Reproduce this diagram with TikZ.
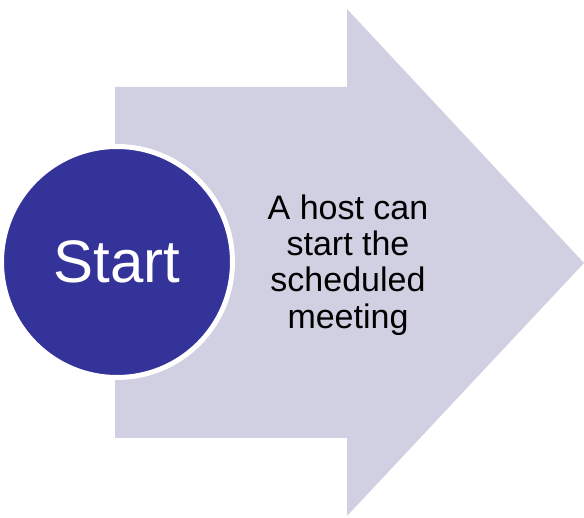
\documentclass[tikz,border=0pt]{standalone}
\usepackage{fontspec}
\setmainfont{Liberation Sans}
\definecolor{arrowfill}{RGB}{208,208,226}
\definecolor{startblue}{RGB}{51,51,153}
\begin{document}
\begin{tikzpicture}[x=1pt,y=-1pt,
  bigarrow/.style={fill=arrowfill,draw=none},
  startcircle/.style={circle,fill=startblue,draw=white,line width=5pt,minimum size=231pt,inner sep=0pt},
  startlbl/.style={anchor=base,inner sep=0pt,text=white,font=\fontsize{60}{72}\selectfont},
  desc/.style={align=center,inner sep=0pt,font=\fontsize{34}{36.4}\selectfont,text=black}]
\useasboundingbox (0,0) rectangle (584,518);
\path[bigarrow] (115,87) -- (347,87) -- (347,9) -- (584,263) -- (347,516) -- (347,438) -- (115,438) -- cycle;
\node[startcircle] (start) at (117,262) {};
\node[startlbl] (startlabel) at (117,283) {Start};
\node[desc] (txt) at (348,265) {A host can\\start the\\scheduled\\meeting};
\end{tikzpicture}
\end{document}
